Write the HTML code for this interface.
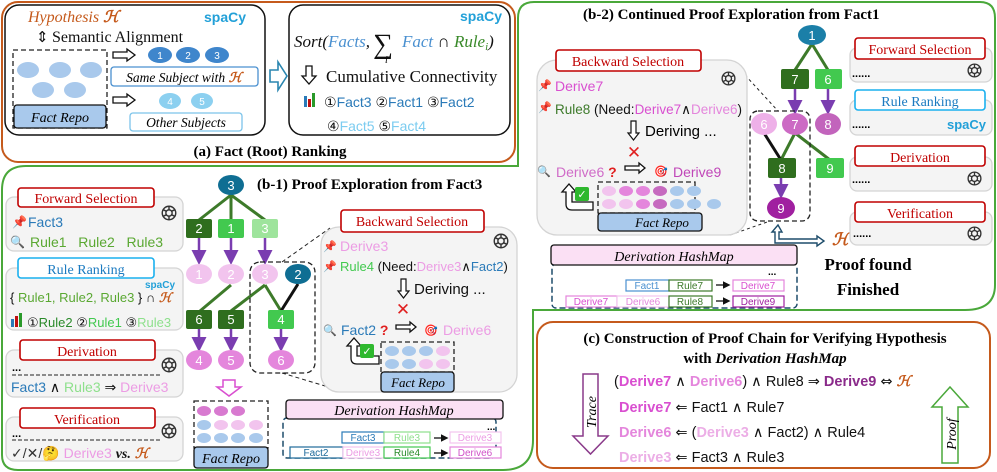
<!DOCTYPE html>
<html><head><meta charset="utf-8"><style>
html,body{margin:0;padding:0;background:#fff;}
svg{display:block;}
.s{font-family:"Liberation Sans","DejaVu Sans",sans-serif;}
.r{font-family:"Liberation Serif","DejaVu Serif",serif;}
.d{font-family:"DejaVu Sans",sans-serif;}
.b{font-weight:bold;}
.i{font-style:italic;}
</style></head><body>
<svg width="997" height="472" viewBox="0 0 997 472" xmlns="http://www.w3.org/2000/svg">
<defs>
<symbol id="g" viewBox="0 0 20 20"><g fill="none" stroke="#333" stroke-width="1.6"><circle cx="10" cy="10" r="7.5"/><circle cx="10" cy="10" r="3.5"/><path d="M10 2.5 L10 6.5 M16.5 6.3 L13 8 M16.5 13.7 L13 12 M10 17.5 L10 13.5 M3.5 13.7 L7 12 M3.5 6.3 L7 8"/></g></symbol>
<marker id="pa" markerWidth="6" markerHeight="6" refX="4" refY="3" orient="auto"><path d="M0,0 L6,3 L0,6 z" fill="#7a3db0"/></marker>
<marker id="ka" markerWidth="6" markerHeight="6" refX="4" refY="3" orient="auto"><path d="M0,0 L6,3 L0,6 z" fill="#111"/></marker>
</defs>

<!-- ===== Panel (a) ===== -->
<rect x="2" y="2" width="513" height="160" rx="16" fill="#fff" stroke="#c55a1c" stroke-width="2"/>
<rect x="5" y="5" width="260" height="130" rx="14" fill="#fff" stroke="#111" stroke-width="1.5"/>
<rect x="289" y="5" width="221" height="130" rx="14" fill="#fff" stroke="#111" stroke-width="1.5"/>
<text x="28" y="22" class="r i" font-size="16" fill="#c55a1c">Hypothesis <tspan class="b">ℋ</tspan></text>
<text x="204" y="22" class="s b" font-size="14" fill="#22a0d8">spaCy</text>
<text x="36" y="42" class="d" font-size="15" fill="#111">⇕</text>
<text x="52" y="42" class="r" font-size="16" fill="#111">Semantic Alignment</text>
<rect x="13" y="50" width="94" height="78" fill="none" stroke="#222" stroke-width="1.3" stroke-dasharray="5,3"/>
<g fill="#a9c9ec"><ellipse cx="28" cy="70" rx="11" ry="8"/><ellipse cx="60" cy="70" rx="11" ry="8"/><ellipse cx="91" cy="70" rx="11" ry="8"/><ellipse cx="43" cy="90" rx="11" ry="8"/><ellipse cx="75" cy="90" rx="11" ry="8"/></g>
<rect x="14" y="105" width="92" height="23" rx="3" fill="#a9c9ec" stroke="#111" stroke-width="1.3"/>
<text x="60" y="122" text-anchor="middle" class="r i" font-size="14">Fact Repo</text>
<path d="M113,52 h14 v-3 l8,6 l-8,6 v-3 h-14 z" fill="#fff" stroke="#111" stroke-width="1.3"/>
<path d="M113,97 h14 v-3 l8,6 l-8,6 v-3 h-14 z" fill="#fff" stroke="#111" stroke-width="1.3"/>
<g fill="#3f86cc"><ellipse cx="160" cy="55" rx="12" ry="8"/><ellipse cx="188" cy="55" rx="12" ry="8"/><ellipse cx="217" cy="55" rx="12" ry="8"/></g>
<g class="s" font-size="10" fill="#fff" text-anchor="middle"><text x="160" y="59">1</text><text x="188" y="59">2</text><text x="217" y="59">3</text></g>
<rect x="111" y="67" width="147" height="19" rx="3" fill="#fff" stroke="#4a90d0" stroke-width="1.3"/>
<text x="184" y="82" text-anchor="middle" class="r i" font-size="13.5">Same Subject with <tspan fill="#c55a1c" class="b">ℋ</tspan></text>
<g fill="#8cd0f0"><ellipse cx="170" cy="101" rx="11" ry="8"/><ellipse cx="202" cy="101" rx="11" ry="8"/></g>
<g class="s" font-size="10" fill="#fff" text-anchor="middle"><text x="170" y="105">4</text><text x="202" y="105">5</text></g>
<rect x="130" y="113" width="112" height="18" rx="3" fill="#fff" stroke="#7cc4ea" stroke-width="1.3"/>
<text x="186" y="127" text-anchor="middle" class="r i" font-size="13.5">Other Subjects</text>
<path d="M270,70 h8 v-8 l9,14 l-9,14 v-8 h-8 z" fill="#fff" stroke="#2a86b0" stroke-width="1.6"/>
<text x="460" y="21" class="s b" font-size="14" fill="#22a0d8">spaCy</text>
<text x="294" y="47" class="r i" font-size="17" fill="#111">Sort(<tspan fill="#4a90d0">Facts</tspan>,</text>
<text x="373" y="53" class="r" font-size="28" fill="#111">∑</text>
<text x="385" y="63" class="r i" font-size="10">i</text>
<text x="402" y="47" class="r i" font-size="17" fill="#4a90d0">Fact <tspan fill="#111" font-style="normal">∩</tspan> <tspan fill="#3a8a2a">Rule<tspan font-size="11" dy="3">i</tspan></tspan><tspan fill="#111" dy="-3">)</tspan></text>
<path d="M306,66 h6 v10 h4 l-7,8 l-7,-8 h4 z" fill="#fff" stroke="#111" stroke-width="1.3"/>
<text x="326" y="82" class="r" font-size="17" fill="#111">Cumulative Connectivity</text>
<rect x="304" y="96" width="3" height="11" fill="#2a7ab8"/><rect x="308" y="99" width="3" height="8" fill="#c01010"/><rect x="312" y="93" width="3" height="14" fill="#2a9a2a"/>
<text x="324" y="107" class="s" font-size="14" fill="#2a7ab8"><tspan fill="#111">①</tspan>Fact3 <tspan fill="#111">②</tspan>Fact1 <tspan fill="#111">③</tspan>Fact2</text>
<text x="327" y="131" class="s" font-size="14" fill="#7cccf0"><tspan fill="#111">④</tspan>Fact5 <tspan fill="#111">⑤</tspan>Fact4</text>
<text x="270" y="156" text-anchor="middle" class="r b" font-size="15">(a) Fact (Root) Ranking</text>

<!-- ===== green outlines b-1 / b-2 ===== -->
<path d="M518,166 V18 Q518,2 534,2 H980 Q995,2 995,18 V285 Q995,310 965,310 H533 V440 Q533,470 503,470 H18 Q2,470 2,455 V190 Q2,166 26,166 Z" fill="none" stroke="#4aa83a" stroke-width="2"/>
<!-- ===== Panel (c) ===== -->
<rect x="537" y="322" width="453" height="146" rx="16" fill="#fff" stroke="#c55a1c" stroke-width="2"/>

<!-- ===== b-1 ===== -->
<text x="257" y="189" class="r b" font-size="15">(b-1) Proof Exploration from Fact3</text>
<rect x="6" y="197" width="177" height="54" rx="8" fill="#f4f4f4" stroke="#d4d4d4" stroke-width="1.3"/>
<rect x="18" y="188" width="136" height="19" rx="3" fill="#fff" stroke="#c00000" stroke-width="1.6"/>
<text x="86" y="203" text-anchor="middle" class="r" font-size="14" fill="#c00000">Forward Selection</text>
<use href="#g" x="160" y="204" width="18" height="18"/>
<text x="12" y="226" font-size="12" fill="#d02020">📌</text>
<text x="28" y="227" class="s" font-size="14" fill="#2a7ab8">Fact3</text>
<text x="10" y="246" font-size="12">🔍</text>
<text x="30" y="247" class="s" font-size="14" fill="#5aa832">Rule1 &#160; Rule2 &#160; Rule3</text>

<rect x="6" y="268" width="177" height="62" rx="8" fill="#f4f4f4" stroke="#d4d4d4" stroke-width="1.3"/>
<rect x="18" y="258" width="136" height="20" rx="3" fill="#fff" stroke="#1ab0ee" stroke-width="1.6"/>
<text x="86" y="274" text-anchor="middle" class="r" font-size="14" fill="#1a7ac0">Rule Ranking</text>
<text x="145" y="288" class="s b" font-size="10" fill="#22a0d8">spaCy</text>
<text x="10" y="302" class="s" font-size="13" fill="#5aa832"><tspan fill="#111">{</tspan> Rule1, Rule2, Rule3 <tspan fill="#111">} ∩</tspan> <tspan class="r i b" fill="#c55a1c">ℋ</tspan></text>
<rect x="11" y="319" width="3" height="8" fill="#2a7ab8"/><rect x="15" y="316" width="3" height="11" fill="#c01010"/><rect x="19" y="313" width="3" height="14" fill="#2a9a2a"/>
<text x="27" y="327" class="s" font-size="13" fill="#2a8a2a"><tspan fill="#111">①</tspan>Rule2 <tspan fill="#111">②</tspan><tspan fill="#42c94f">Rule1</tspan> <tspan fill="#111">③</tspan><tspan fill="#8ee08c">Rule3</tspan></text>

<rect x="6" y="350" width="177" height="47" rx="8" fill="#f4f4f4" stroke="#d4d4d4" stroke-width="1.3"/>
<rect x="20" y="340" width="135" height="20" rx="3" fill="#fff" stroke="#c00000" stroke-width="1.6"/>
<text x="87" y="356" text-anchor="middle" class="r" font-size="14" fill="#c00000">Derivation</text>
<use href="#g" x="160" y="356" width="18" height="18"/>
<text x="12" y="371" class="s b" font-size="11">...</text>
<line x1="12" y1="375" x2="162" y2="375" stroke="#222" stroke-dasharray="4,2"/>
<text x="11" y="392" class="s" font-size="14" fill="#2a7ab8">Fact3 <tspan fill="#111">∧</tspan> <tspan fill="#8ee08c">Rule3</tspan> <tspan fill="#111">⇒</tspan> <tspan fill="#ec9ce4">Derive3</tspan></text>

<rect x="6" y="417" width="177" height="44" rx="8" fill="#f4f4f4" stroke="#d4d4d4" stroke-width="1.3"/>
<rect x="20" y="408" width="135" height="20" rx="3" fill="#fff" stroke="#c00000" stroke-width="1.6"/>
<text x="87" y="424" text-anchor="middle" class="r" font-size="14" fill="#c00000">Verification</text>
<use href="#g" x="160" y="422" width="18" height="18"/>
<text x="12" y="437" class="s b" font-size="11">...</text>
<line x1="12" y1="440" x2="162" y2="440" stroke="#222" stroke-dasharray="4,2"/>
<text x="11" y="458" class="s" font-size="14" fill="#333"><tspan class="b">✓</tspan>/<tspan class="b">✕</tspan>/🤔 <tspan fill="#ec9ce4">Derive3</tspan> <tspan class="r i b" fill="#111">vs.</tspan> <tspan class="r i b" fill="#c55a1c">ℋ</tspan></text>

<!-- tree b-1 -->
<g stroke="#3d7a2a" stroke-width="3" fill="none">
<line x1="231" y1="195" x2="199" y2="220"/><line x1="231" y1="195" x2="231" y2="220"/><line x1="231" y1="195" x2="265" y2="220"/>
<line x1="231" y1="285" x2="200" y2="311"/><line x1="265" y1="285" x2="231" y2="311"/><line x1="265" y1="285" x2="281" y2="311"/>
</g>
<line x1="298" y1="284" x2="281" y2="311" stroke="#111" stroke-width="3"/>
<g stroke="#7a3db0" stroke-width="2.5" marker-end="url(#pa)">
<line x1="199" y1="238" x2="199" y2="260"/><line x1="231" y1="238" x2="231" y2="260"/><line x1="265" y1="238" x2="265" y2="260"/>
<line x1="199" y1="329" x2="199" y2="347"/><line x1="231" y1="329" x2="231" y2="347"/><line x1="281" y1="329" x2="281" y2="347"/>
</g>
<ellipse cx="231" cy="185" rx="13" ry="10" fill="#0f6e93"/>
<rect x="186" y="219" width="26" height="19" rx="2" fill="#2f6e1e"/>
<rect x="218" y="219" width="26" height="19" rx="2" fill="#42c94f"/>
<rect x="252" y="219" width="26" height="19" rx="2" fill="#9ee49c"/>
<g fill="#f2c4ee"><ellipse cx="199" cy="274" rx="13" ry="10"/><ellipse cx="231" cy="274" rx="13" ry="10"/><ellipse cx="265" cy="274" rx="13" ry="10"/></g>
<ellipse cx="298" cy="274" rx="13" ry="10" fill="#0f6e93"/>
<rect x="186" y="310" width="26" height="19" rx="2" fill="#2f6e1e"/>
<rect x="218" y="310" width="26" height="19" rx="2" fill="#2f6e1e"/>
<rect x="268" y="310" width="26" height="19" rx="2" fill="#42c94f"/>
<g fill="#e486dc"><ellipse cx="199" cy="360" rx="13" ry="10"/><ellipse cx="231" cy="360" rx="13" ry="10"/><ellipse cx="281" cy="360" rx="13" ry="10"/></g>
<g class="s" font-size="13" fill="#fff" text-anchor="middle">
<text x="231" y="190">3</text><text x="199" y="233">2</text><text x="231" y="233">1</text><text x="265" y="233">3</text>
<text x="199" y="279">1</text><text x="231" y="279">2</text><text x="265" y="279">3</text><text x="298" y="279">2</text>
<text x="199" y="324">6</text><text x="231" y="324">5</text><text x="281" y="324">4</text>
<text x="199" y="365">4</text><text x="231" y="365">5</text><text x="281" y="365">6</text>
</g>
<rect x="250" y="262" width="65" height="111" rx="10" fill="none" stroke="#222" stroke-width="1.3" stroke-dasharray="5,3"/>
<line x1="282" y1="262" x2="330" y2="228" stroke="#222" stroke-dasharray="4,3"/>
<line x1="282" y1="373" x2="345" y2="392" stroke="#222" stroke-dasharray="4,3"/>
<path d="M223,380 h12 v7 h6 l-12,9 l-12,-9 h6 z" fill="#fff" stroke="#d94fd0" stroke-width="1.5"/>
<rect x="194" y="401" width="74" height="47" fill="none" stroke="#222" stroke-width="1.3" stroke-dasharray="5,3"/>
<g><ellipse cx="204" cy="411" rx="7" ry="5" fill="#d87ad0"/><ellipse cx="221" cy="411" rx="7" ry="5" fill="#d87ad0"/><ellipse cx="238" cy="411" rx="7" ry="5" fill="#d87ad0"/>
<ellipse cx="204" cy="425" rx="7" ry="5" fill="#a9c9ec"/><ellipse cx="221" cy="425" rx="7" ry="5" fill="#f2c4ee"/><ellipse cx="238" cy="425" rx="7" ry="5" fill="#f2c4ee"/><ellipse cx="256" cy="425" rx="7" ry="5" fill="#f2c4ee"/>
<ellipse cx="204" cy="438" rx="7" ry="5" fill="#a9c9ec"/><ellipse cx="221" cy="438" rx="7" ry="5" fill="#a9c9ec"/><ellipse cx="238" cy="438" rx="7" ry="5" fill="#a9c9ec"/><ellipse cx="256" cy="438" rx="7" ry="5" fill="#a9c9ec"/></g>
<rect x="194" y="447" width="74" height="21" rx="3" fill="#a9c9ec" stroke="#111" stroke-width="1.3"/>
<text x="231" y="463" text-anchor="middle" class="r i" font-size="14">Fact Repo</text>

<!-- backward selection b-1 -->
<rect x="321" y="227" width="196" height="165" rx="18" fill="#f4f4f4" stroke="#d4d4d4" stroke-width="1.3"/>
<rect x="341" y="210" width="143" height="22" rx="3" fill="#fff" stroke="#c00000" stroke-width="1.6"/>
<text x="412" y="226" text-anchor="middle" class="r" font-size="14" fill="#c00000">Backward Selection</text>
<use href="#g" x="492" y="232" width="18" height="18"/>
<text x="323" y="250" font-size="11" fill="#d02020">📌</text>
<text x="340" y="251" class="s" font-size="14" fill="#ec9ce4">Derive3</text>
<text x="323" y="270" font-size="11" fill="#d02020">📌</text>
<text x="340" y="271" class="s" font-size="13" fill="#42c94f">Rule4 <tspan fill="#111">(Need:</tspan><tspan fill="#ec9ce4">Derive3</tspan><tspan fill="#111">∧</tspan><tspan fill="#2a7ab8">Fact2</tspan><tspan fill="#111">)</tspan></text>
<path d="M401,279 h5 v12 h3 l-5.5,7 l-5.5,-7 h3 z" fill="#fff" stroke="#111" stroke-width="1.2"/>
<text x="414" y="294" class="s" font-size="15" fill="#111">Deriving ...</text>
<text x="403" y="315" text-anchor="middle" class="s b" font-size="17" fill="#e02020">✕</text>
<text x="323" y="334" font-size="11">🔍</text>
<text x="341" y="335" class="s" font-size="14" fill="#2a7ab8">Fact2 <tspan fill="#e02020" class="b">?</tspan></text>
<path d="M396,325 h14 v-3 l6,5 l-6,5 v-3 h-14 z" fill="#fff" stroke="#111" stroke-width="1.3"/>
<text x="424" y="334" font-size="11">🎯</text>
<text x="443" y="335" class="s" font-size="14" fill="#ec9ce4">Derive6</text>
<path d="M379,364 h-22 q-6,0 -6,-6 v-12 h-4 l7,-8 l7,8 h-4 v10 h22 z" fill="#fff" stroke="#111" stroke-width="1.3"/>
<rect x="360" y="344" width="14" height="14" rx="2" fill="#2eb82e"/><text x="367" y="355" text-anchor="middle" fill="#fff" class="s b" font-size="11">✓</text>
<rect x="381" y="342" width="73" height="30" fill="none" stroke="#222" stroke-width="1.3" stroke-dasharray="5,3"/>
<g><ellipse cx="392" cy="351" rx="7" ry="5" fill="#a9c9ec"/><ellipse cx="409" cy="351" rx="7" ry="5" fill="#a9c9ec"/><ellipse cx="426" cy="351" rx="7" ry="5" fill="#a9c9ec"/><ellipse cx="443" cy="351" rx="7" ry="5" fill="#f2c4ee"/>
<ellipse cx="392" cy="364" rx="7" ry="5" fill="#a9c9ec"/><ellipse cx="409" cy="364" rx="7" ry="5" fill="#a9c9ec"/><ellipse cx="426" cy="364" rx="7" ry="5" fill="#f2c4ee"/><ellipse cx="443" cy="364" rx="7" ry="5" fill="#f2c4ee"/></g>
<rect x="381" y="372" width="73" height="20" rx="3" fill="#a9c9ec" stroke="#111" stroke-width="1.3"/>
<text x="418" y="387" text-anchor="middle" class="r i" font-size="13">Fact Repo</text>

<!-- hashmap b-1 -->
<rect x="283" y="418" width="213" height="40" rx="4" fill="none" stroke="#1e4d6b" stroke-width="1.5" stroke-dasharray="6,3"/>
<rect x="286" y="400" width="217" height="19" rx="3" fill="#fbe0f4" stroke="#111" stroke-width="1.3"/>
<text x="394" y="415" text-anchor="middle" class="r i" font-size="14">Derivation HashMap</text>
<text x="487" y="430" class="s b" font-size="10">...</text>
<g class="s" font-size="10" text-anchor="middle">
<rect x="342" y="432" width="42" height="11" fill="#fff" stroke="#2a7ab8" stroke-width="1.2"/><text x="363" y="441" fill="#2a7ab8">Fact3</text>
<rect x="384" y="432" width="46" height="11" fill="#fff" stroke="#8ee08c" stroke-width="1.2"/><text x="407" y="441" fill="#8ee08c">Rule3</text>
<rect x="450" y="432" width="51" height="11" fill="#fff" stroke="#f2c4ee" stroke-width="1.2"/><text x="475" y="441" fill="#ec9ce4">Derive3</text>
<rect x="290" y="447" width="53" height="11" fill="#fff" stroke="#1e6a9a" stroke-width="1.2"/><text x="316" y="456" fill="#1e6a9a">Fact2</text>
<rect x="343" y="447" width="41" height="11" fill="#fff" stroke="#f2c4ee" stroke-width="1.2"/><text x="363" y="456" fill="#ec9ce4">Derive3</text>
<rect x="384" y="447" width="46" height="11" fill="#fff" stroke="#42c94f" stroke-width="1.2"/><text x="407" y="456" fill="#2a8a2a">Rule4</text>
<rect x="450" y="447" width="51" height="11" fill="#fff" stroke="#e486dc" stroke-width="1.2"/><text x="475" y="456" fill="#d050c8">Derive6</text>
</g>
<line x1="434" y1="438" x2="446" y2="438" stroke="#111" stroke-width="1.3" marker-end="url(#ka)"/>
<line x1="434" y1="453" x2="446" y2="453" stroke="#111" stroke-width="1.3" marker-end="url(#ka)"/>

<!-- ===== b-2 ===== -->
<text x="583" y="19" class="r b" font-size="15">(b-2) Continued Proof Exploration from Fact1</text>
<g stroke="#3d7a2a" stroke-width="3" fill="none">
<line x1="812" y1="44" x2="795" y2="70"/><line x1="812" y1="44" x2="828" y2="70"/>
<line x1="795" y1="133" x2="781" y2="160"/><line x1="795" y1="133" x2="830" y2="160"/>
</g>
<line x1="764" y1="133" x2="781" y2="160" stroke="#111" stroke-width="3"/>
<g stroke="#7a3db0" stroke-width="2.5" marker-end="url(#pa)">
<line x1="795" y1="88" x2="795" y2="110"/><line x1="828" y1="88" x2="828" y2="110"/><line x1="781" y1="177" x2="781" y2="194"/>
</g>
<ellipse cx="812" cy="35" rx="14" ry="10" fill="#1b7fa8"/>
<rect x="781" y="69" width="28" height="20" rx="2" fill="#2f6e1e"/>
<rect x="815" y="69" width="27" height="20" rx="2" fill="#42c94f"/>
<ellipse cx="764" cy="124" rx="13" ry="11" fill="#eeb0e8"/>
<ellipse cx="795" cy="124" rx="13" ry="11" fill="#cc6ac4"/>
<ellipse cx="828" cy="124" rx="13" ry="11" fill="#c264bc"/>
<rect x="768" y="158" width="28" height="20" rx="2" fill="#2f6e1e"/>
<rect x="816" y="158" width="28" height="20" rx="2" fill="#42c94f"/>
<ellipse cx="781" cy="208" rx="14" ry="11" fill="#a020a0"/>
<g class="s" font-size="13" fill="#fff" text-anchor="middle">
<text x="812" y="40">1</text><text x="795" y="84">7</text><text x="828" y="84">6</text>
<text x="764" y="129">6</text><text x="795" y="129">7</text><text x="828" y="129">8</text>
<text x="782" y="173">8</text><text x="830" y="173">9</text><text x="781" y="213">9</text>
</g>
<rect x="750" y="111" width="60" height="110" rx="8" fill="none" stroke="#222" stroke-width="1.3" stroke-dasharray="5,3"/>
<line x1="745" y1="75" x2="778" y2="111" stroke="#222" stroke-dasharray="3,3"/>
<line x1="730" y1="235" x2="770" y2="221" stroke="#222" stroke-dasharray="3,3"/>
<path d="M778,225 l-6,7 h3 v11 h42 v3 l7,-5 l-7,-5 v3 h-38 v-7 h3 z" fill="#fff" stroke="#1e4d6b" stroke-width="1.4"/>
<text x="832" y="245" class="r i b" font-size="17" fill="#c55a1c">ℋ</text>
<text x="868" y="270" text-anchor="middle" class="r b" font-size="17">Proof found</text>
<text x="868" y="295" text-anchor="middle" class="r b" font-size="17">Finished</text>

<!-- right column b-2 -->
<rect x="850" y="48" width="142" height="34" rx="7" fill="#f4f4f4" stroke="#d4d4d4" stroke-width="1.3"/>
<rect x="855" y="38" width="130" height="21" rx="3" fill="#fff" stroke="#c00000" stroke-width="1.6"/>
<text x="920" y="54" text-anchor="middle" class="r" font-size="14" fill="#c00000">Forward Selection</text>
<text x="852" y="77" class="s b" font-size="11">......</text><use href="#g" x="966" y="62" width="17" height="17"/>
<rect x="850" y="100" width="142" height="35" rx="7" fill="#f4f4f4" stroke="#d4d4d4" stroke-width="1.3"/>
<rect x="855" y="90" width="130" height="20" rx="3" fill="#fff" stroke="#1ab0ee" stroke-width="1.6"/>
<text x="920" y="106" text-anchor="middle" class="r" font-size="14" fill="#1a7ac0">Rule Ranking</text>
<text x="852" y="128" class="s b" font-size="11">......</text><text x="947" y="129" class="s b" font-size="13" fill="#22a0d8">spaCy</text>
<rect x="850" y="157" width="142" height="34" rx="7" fill="#f4f4f4" stroke="#d4d4d4" stroke-width="1.3"/>
<rect x="855" y="146" width="130" height="20" rx="3" fill="#fff" stroke="#c00000" stroke-width="1.6"/>
<text x="920" y="162" text-anchor="middle" class="r" font-size="14" fill="#c00000">Derivation</text>
<text x="852" y="183" class="s b" font-size="11">......</text><use href="#g" x="966" y="170" width="17" height="17"/>
<rect x="850" y="212" width="142" height="33" rx="7" fill="#f4f4f4" stroke="#d4d4d4" stroke-width="1.3"/>
<rect x="855" y="202" width="130" height="20" rx="3" fill="#fff" stroke="#c00000" stroke-width="1.6"/>
<text x="920" y="218" text-anchor="middle" class="r" font-size="14" fill="#c00000">Verification</text>
<text x="853" y="237" class="s b" font-size="11">......</text><use href="#g" x="966" y="225" width="17" height="17"/>

<!-- backward selection b-2 -->
<rect x="537" y="60" width="210" height="175" rx="20" fill="#f4f4f4" stroke="#d4d4d4" stroke-width="1.3"/>
<rect x="556" y="50" width="145" height="21" rx="3" fill="#fff" stroke="#c00000" stroke-width="1.6"/>
<text x="628" y="66" text-anchor="middle" class="r" font-size="14" fill="#c00000">Backward Selection</text>
<use href="#g" x="720" y="70" width="17" height="17"/>
<text x="538" y="89" font-size="11" fill="#d02020">📌</text>
<text x="555" y="91" class="s" font-size="14" fill="#d94fd0">Derive7</text>
<text x="538" y="111" font-size="11" fill="#d02020">📌</text>
<text x="555" y="114" class="s" font-size="13.5" fill="#3d7a2a">Rule8 <tspan fill="#111">(Need:</tspan><tspan fill="#d94fd0">Derive7</tspan><tspan fill="#111">∧</tspan><tspan fill="#e486dc">Derive6</tspan><tspan fill="#111">)</tspan></text>
<path d="M631,121 h5 v12 h3 l-5.5,7 l-5.5,-7 h3 z" fill="#fff" stroke="#111" stroke-width="1.2"/>
<text x="645" y="136" class="s" font-size="15">Deriving ...</text>
<text x="634" y="158" text-anchor="middle" class="s b" font-size="17" fill="#e02020">✕</text>
<text x="537" y="175" font-size="11">🔍</text>
<text x="556" y="177" class="s" font-size="14" fill="#d06cc8">Derive6 <tspan fill="#e02020" class="b">?</tspan></text>
<path d="M625,166 h14 v-3 l6,5 l-6,5 v-3 h-14 z" fill="#fff" stroke="#111" stroke-width="1.3"/>
<text x="654" y="175" font-size="11">🎯</text>
<text x="673" y="177" class="s" font-size="14" fill="#c046b8">Derive9</text>
<path d="M593,210 h-21 q-6,0 -6,-6 v-12 h-4 l7,-8 l7,8 h-4 v10 h21 z" fill="#fff" stroke="#111" stroke-width="1.3"/>
<rect x="575" y="187" width="14" height="14" rx="2" fill="#2eb82e"/><text x="582" y="198" text-anchor="middle" fill="#fff" class="s b" font-size="11">✓</text>
<rect x="598" y="182" width="97" height="31" fill="none" stroke="#222" stroke-width="1.3" stroke-dasharray="5,3"/>
<g><ellipse cx="609" cy="191" rx="7" ry="5" fill="#f2c4ee"/><ellipse cx="626" cy="191" rx="7" ry="5" fill="#e486dc"/><ellipse cx="643" cy="191" rx="7" ry="5" fill="#e486dc"/><ellipse cx="660" cy="191" rx="7" ry="5" fill="#c66abf"/><ellipse cx="677" cy="191" rx="7" ry="5" fill="#a9c9ec"/><ellipse cx="694" cy="191" rx="7" ry="5" fill="#a9c9ec"/>
<ellipse cx="609" cy="204" rx="7" ry="5" fill="#f2c4ee"/><ellipse cx="626" cy="204" rx="7" ry="5" fill="#f2c4ee"/><ellipse cx="643" cy="204" rx="7" ry="5" fill="#e486dc"/><ellipse cx="660" cy="204" rx="7" ry="5" fill="#c66abf"/><ellipse cx="677" cy="204" rx="7" ry="5" fill="#a9c9ec"/><ellipse cx="694" cy="204" rx="7" ry="5" fill="#a9c9ec"/><ellipse cx="714" cy="204" rx="7" ry="5" fill="#a9c9ec"/></g>
<rect x="598" y="213" width="104" height="18" rx="3" fill="#a9c9ec" stroke="#111" stroke-width="1.3"/>
<text x="662" y="227" text-anchor="middle" class="r i" font-size="13">Fact Repo</text>

<!-- hashmap b-2 -->
<rect x="552" y="264" width="245" height="44" rx="4" fill="none" stroke="#1e4d6b" stroke-width="1.5" stroke-dasharray="6,3"/>
<rect x="551" y="245" width="246" height="20" rx="3" fill="#fbe0f4" stroke="#111" stroke-width="1.3"/>
<text x="674" y="261" text-anchor="middle" class="r i" font-size="14">Derivation HashMap</text>
<text x="768" y="275" class="s b" font-size="10">...</text>
<g class="s" font-size="10" text-anchor="middle">
<rect x="626" y="280" width="43" height="11" fill="#fff" stroke="#4a90d0" stroke-width="1.2"/><text x="647" y="289" fill="#4a90d0">Fact1</text>
<rect x="669" y="280" width="43" height="11" fill="#fff" stroke="#3d7a2a" stroke-width="1.2"/><text x="690" y="289" fill="#3d7a2a">Rule7</text>
<rect x="733" y="280" width="51" height="11" fill="#fff" stroke="#e486dc" stroke-width="1.2"/><text x="758" y="289" fill="#d94fd0">Derive7</text>
<rect x="566" y="296" width="51" height="11" fill="#fff" stroke="#e486dc" stroke-width="1.2"/><text x="591" y="305" fill="#d94fd0">Derive7</text>
<rect x="617" y="296" width="52" height="11" fill="#fff" stroke="#f2c4ee" stroke-width="1.2"/><text x="643" y="305" fill="#e486dc">Derive6</text>
<rect x="669" y="296" width="43" height="11" fill="#fff" stroke="#3d7a2a" stroke-width="1.2"/><text x="690" y="305" fill="#3d7a2a">Rule8</text>
<rect x="733" y="296" width="51" height="11" fill="#fff" stroke="#a020a0" stroke-width="1.2"/><text x="758" y="305" fill="#a020a0">Derive9</text>
</g>
<line x1="716" y1="285" x2="728" y2="285" stroke="#111" stroke-width="1.3" marker-end="url(#ka)"/>
<line x1="716" y1="301" x2="728" y2="301" stroke="#111" stroke-width="1.3" marker-end="url(#ka)"/>

<!-- ===== Panel (c) content ===== -->
<text x="765" y="343" text-anchor="middle" class="r b" font-size="15">(c) Construction of Proof Chain for Verifying Hypothesis</text>
<text x="765" y="363" text-anchor="middle" class="r b" font-size="15">with <tspan class="i">Derivation HashMap</tspan></text>
<path d="M583,374 h15 v62 h10 l-17.5,18 l-17.5,-18 h10 z" fill="#fff" stroke="#8a3a8a" stroke-width="1.5"/>
<text transform="translate(596,412) rotate(-90)" text-anchor="middle" class="r i" font-size="14">Trace</text>
<path d="M942,463 h16 v-56 h10 l-18,-20 l-18,20 h10 z" fill="#fff" stroke="#4aa83a" stroke-width="1.5"/>
<text transform="translate(956,434) rotate(-90)" text-anchor="middle" class="r i" font-size="14">Proof</text>
<g class="s" font-size="14.5" fill="#111">
<text x="614" y="386">(<tspan class="b" fill="#d94fd0">Derive7</tspan> ∧ <tspan class="b" fill="#e486dc">Derive6</tspan>) ∧ Rule8 ⇒ <tspan class="b" fill="#8a2a8a">Derive9</tspan> <tspan class="d">⇔</tspan> <tspan class="r i b" fill="#c55a1c">ℋ</tspan></text>
<text x="619" y="412"><tspan class="b" fill="#d94fd0">Derive7</tspan> ⇐ Fact1 ∧ Rule7</text>
<text x="619" y="437"><tspan class="b" fill="#e486dc">Derive6</tspan> ⇐ (<tspan class="b" fill="#ecaee6">Derive3</tspan> ∧ Fact2) ∧ Rule4</text>
<text x="619" y="462"><tspan class="b" fill="#ecaee6">Derive3</tspan> ⇐ Fact3 ∧ Rule3</text>
</g>
</svg>
</body></html>
